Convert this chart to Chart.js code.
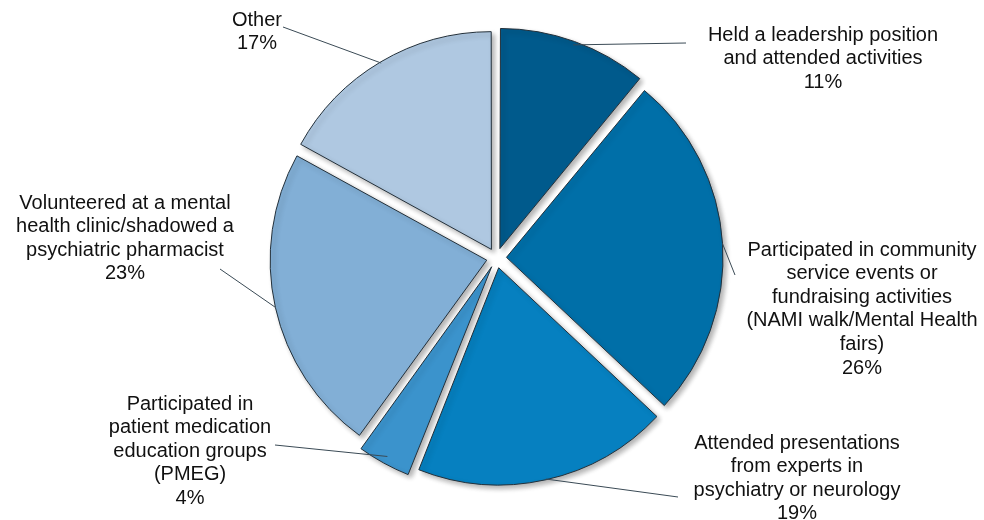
<!DOCTYPE html>
<html>
<head>
<meta charset="utf-8">
<script src="https://cdn.jsdelivr.net/npm/chart.js@4.4.0/dist/chart.umd.min.js"></script>
<style>
    html, body { margin: 0; padding: 0; background: #ffffff; }
    #wrap { width: 984px; height: 520px; position: relative; }
</style>
</head>
<body>
<div id="wrap"><canvas id="pie"></canvas></div>
<script>
const categories = [
    ['Held a leadership position', 'and attended activities'],
    ['Participated in community', 'service events or', 'fundraising activities', '(NAMI walk/Mental Health', 'fairs)'],
    ['Attended presentations', 'from experts in', 'psychiatry or neurology'],
    ['Participated in', 'patient medication', 'education groups', '(PMEG)'],
    ['Volunteered at a mental', 'health clinic/shadowed a', 'psychiatric pharmacist'],
    ['Other']
];
const shares = [11, 26, 19, 4, 23, 17];
const sliceColors = ['#005a8c', '#006fa8', '#0680c0', '#3b93cc', '#82afd6', '#afc8e1'];

// where each label sits and where its leader line ends
const labelSpots = [
    { x: 823, y: 35, lineTo: [686, 43] },
    { x: 862, y: 250, lineTo: [735, 275] },
    { x: 797, y: 443, lineTo: [678, 497] },
    { x: 190, y: 404, lineTo: [275, 445] },
    { x: 125, y: 203, lineTo: [220, 269] },
    { x: 257, y: 20, lineTo: [283, 27] }
];

// chart.js moves an exploded arc by offset / 4
const explode = 40;

const shadowPlugin = {
    id: 'shadow',
    beforeDatasetsDraw(chart) {
        const ctx = chart.ctx;
        ctx.save();
        ctx.shadowColor = 'rgba(0,0,0,0.3)';
        ctx.shadowBlur = 5;
        ctx.shadowOffsetX = 3;
        ctx.shadowOffsetY = 3;
    },
    afterDatasetsDraw(chart) {
        chart.ctx.restore();
    }
};

const labelPlugin = {
    id: 'pieLabels',
    afterDraw(chart) {
        const ctx = chart.ctx;
        const arcs = chart.getDatasetMeta(0).data;
        ctx.save();
        arcs.forEach((arc, i) => {
            const p = arc.getProps(['x', 'y', 'startAngle', 'endAngle', 'outerRadius'], true);
            const mid = (p.startAngle + p.endAngle) / 2;
            const r = p.outerRadius + explode / 4;
            const sx = p.x + Math.cos(mid) * r;
            const sy = p.y + Math.sin(mid) * r;
            const spot = labelSpots[i];

            ctx.strokeStyle = '#3a4a55';
            ctx.lineWidth = 1;
            ctx.beginPath();
            ctx.moveTo(sx, sy);
            ctx.lineTo(spot.lineTo[0], spot.lineTo[1]);
            ctx.stroke();

            const lines = categories[i].concat([shares[i] + '%']);
            ctx.fillStyle = '#111111';
            ctx.font = '20px "Liberation Sans", Arial, sans-serif';
            ctx.textAlign = 'center';
            ctx.textBaseline = 'middle';
            lines.forEach((t, k) => {
                ctx.fillText(t, spot.x, spot.y + k * 23.6);
            });
        });
        ctx.restore();
    }
};

new Chart(document.getElementById('pie').getContext('2d'), {
    type: 'pie',
    data: {
        labels: categories.map(c => c.join(' ')),
        datasets: [{
            data: shares,
            backgroundColor: sliceColors,
            borderColor: '#23303a',
            borderWidth: 1,
            offset: explode
        }]
    },
    options: {
        responsive: true,
        maintainAspectRatio: false,
        animation: false,
        layout: { padding: { top: 21, bottom: 25, left: 9, right: 0 } },
        plugins: {
            legend: { display: false },
            tooltip: { enabled: false }
        }
    },
    plugins: [shadowPlugin, labelPlugin]
});
</script>
</body>
</html>
